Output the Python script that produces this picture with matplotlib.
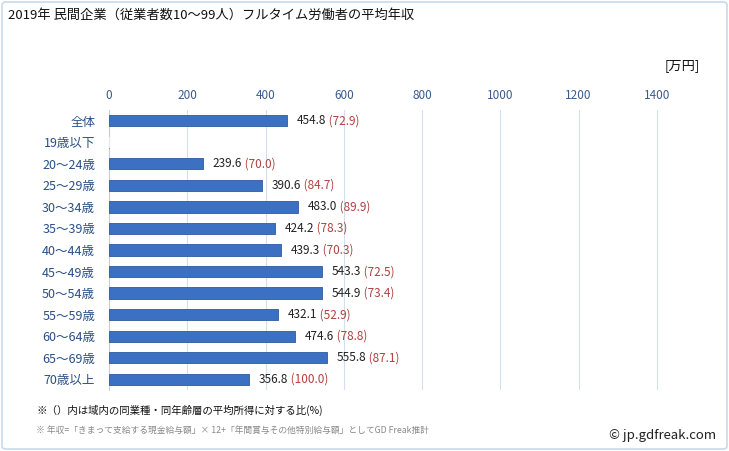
import matplotlib
matplotlib.use("Agg")
import matplotlib.pyplot as plt
from matplotlib.patches import FancyBboxPatch

plt.rcParams['font.family'] = ['Noto Sans CJK JP', 'DejaVu Sans']

categories = ["全体", "19歳以下", "20～24歳", "25～29歳", "30～34歳", "35～39歳", "40～44歳",
              "45～49歳", "50～54歳", "55～59歳", "60～64歳", "65～69歳", "70歳以上"]
values = [454.8, 0.0, 239.6, 390.6, 483.0, 424.2, 439.3, 543.3, 544.9, 432.1, 474.6, 555.8, 356.8]
ratios = [72.9, None, 70.0, 84.7, 89.9, 78.3, 70.3, 72.5, 73.4, 52.9, 78.8, 87.1, 100.0]
xticks = [0, 200, 400, 600, 800, 1000, 1200, 1400]

W, H = 729, 451
fig = plt.figure(figsize=(W / 100, H / 100), dpi=100)
fig.patch.set_facecolor('white')

# outer border
border = FancyBboxPatch((2 / W, 2 / H), 1 - 4 / W, 1 - 4 / H,
                        boxstyle="round,pad=0,rounding_size=0.006",
                        transform=fig.transFigure, fill=False,
                        edgecolor='#c9daea', linewidth=1.2)
fig.patches.append(border)

left, right = 109 / W, 696 / W
top, bottom = 1 - 110 / H, 1 - 390 / H
ax = fig.add_axes([left, bottom, right - left, top - bottom])

y = list(range(len(categories)))
ax.barh(y, values, height=0.52, color='#3b70c2', edgecolor='#2d5a9e', linewidth=0.6, zorder=3)
# tiny sliver for 19歳以下
ax.barh([1], [3], height=0.52, color='#e8e8e8', zorder=3)

for yi, v, r in zip(y, values, ratios):
    if r is None:
        continue
    t = ax.annotate(f"{v:.1f}", xy=(v, yi), xytext=(7, 0), textcoords='offset points',
                    va='center', ha='left', fontsize=8.5, color='#222222')
    ax.annotate(f" ({r:.1f})", xycoords=t, xy=(1, 0.5), va='center', ha='left',
                fontsize=8.5, color='#b0413e')

ax.set_ylim(len(categories) - 0.5, -0.5)
ax.set_xlim(0, 1500)
ax.set_xticks(xticks)
ax.xaxis.tick_top()
ax.tick_params(axis='x', length=0, pad=6, labelsize=8.5, labelcolor='#3b5a8c')
ax.set_yticks(y)
ax.set_yticklabels(categories)
ax.tick_params(axis='y', length=0, pad=10, labelsize=9, labelcolor='#2a4f85')
ax.grid(axis='x', color='#d3e0ee', linewidth=0.8, zorder=0)
for s in ['top', 'right', 'bottom']:
    ax.spines[s].set_visible(False)
ax.spines['left'].set_color('#cccccc')
ax.spines['left'].set_linewidth(0.8)

fig.text(8 / W, 1 - 15 / H, "2019年 民間企業（従業者数10～99人）フルタイム労働者の平均年収",
         fontsize=9.5, va='center', ha='left', color='#111111')
fig.text(700 / W, 1 - 66 / H, "[万円]", fontsize=9.5, va='center', ha='right', color='#111111')
fig.text(36 / W, 1 - 410 / H, "※（）内は域内の同業種・同年齢層の平均所得に対する比(%)",
         fontsize=7.5, va='center', ha='left', color='#111111')
fig.text(36 / W, 1 - 430 / H, "※ 年収=「きまって支給する現金給与額」× 12+「年間賞与その他特別給与額」としてGD Freak推計",
         fontsize=6.3, va='center', ha='left', color='#888888')
fig.text(716 / W, 1 - 436 / H, "© jp.gdfreak.com", fontsize=9.5, va='center', ha='right',
         color='#222222')

fig.savefig("out.png", dpi=100, facecolor='white')
